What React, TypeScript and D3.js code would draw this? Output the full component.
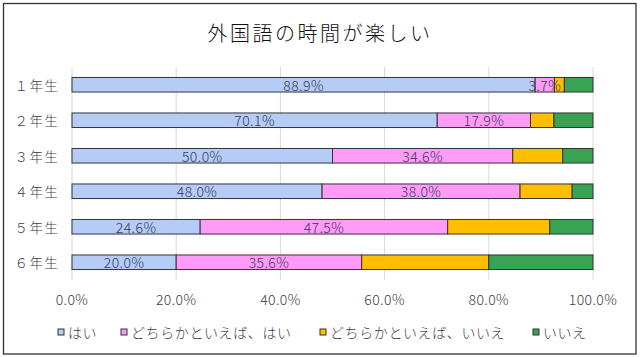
import React from "react";
import * as d3 from "d3";

const title = "外国語の時間が楽しい";
const categories = ["１年生", "２年生", "３年生", "４年生", "５年生", "６年生"];
const seriesNames = ["はい", "どちらかといえば、はい", "どちらかといえば、いいえ", "いいえ"];
const hai = [88.9, 70.1, 50.0, 48.0, 24.6, 20.0];
const dochiraHai = [3.7, 17.9, 34.6, 38.0, 47.5, 35.6];
const dochiraIie = [1.9, 4.5, 9.6, 10.0, 19.6, 24.4];
const iie = [5.5, 7.5, 5.8, 4.0, 8.3, 20.0];
const xTicks = [0, 20, 40, 60, 80, 100];
const colors = ["#B4CCF6", "#FF9CF8", "#FFBE00", "#39A353"];
const labelSeries = [true, true, false, false];

const W = 642;
const H = 357;
const FONT = "'Noto Sans CJK JP', 'Noto Sans', sans-serif";

export default function App() {
  const x = d3.scaleLinear().domain([0, 100]).range([72, 593]);
  const y = d3.scaleBand<string>().domain(categories).range([67, 280]).paddingInner(0.59).paddingOuter(0.295);
  const values = [hai, dochiraHai, dochiraIie, iie];
  const rows = categories.map((c, i) => {
    const obj: any = { cat: c };
    values.forEach((v, k) => (obj["s" + k] = v[i]));
    return obj;
  });
  const stack = d3.stack<any>().keys(["s0", "s1", "s2", "s3"])(rows);
  const legendX = [58, 121, 320, 533];

  return (
    <svg width={W} height={H} style={{ position: "absolute", left: 0, top: 0, background: "#fff" }} fontFamily={FONT} fontWeight={300}>
      <rect x={0} y={0} width={W} height={H} fill="#fff" />
      <rect x={3.5} y={3.5} width={632.5} height={350.5} fill="none" stroke="#333" strokeWidth={1.3} />
      <text x={320} y={32} textAnchor="middle" dominantBaseline="central" fontSize={20} letterSpacing={2.5} fill="#111">
        {title}
      </text>
      {xTicks.map((t) => (
        <g key={t}>
          <line x1={x(t)} x2={x(t)} y1={67} y2={280} stroke="#D9D9D9" strokeWidth={1} />
          <text x={x(t)} y={299} textAnchor="middle" dominantBaseline="central" fontSize={14} letterSpacing={0.4} fill="#404040">
            {t.toFixed(1) + "%"}
          </text>
        </g>
      ))}
      {categories.map((c) => (
        <text key={c} x={59} y={(y(c) as number) + y.bandwidth() / 2} textAnchor="end" dominantBaseline="central" fontSize={13.5} letterSpacing={1.3} fill="#404040">
          {c}
        </text>
      ))}
      {stack.map((layer, k) => (
        <g key={k}>
          {layer.map((d, i) => (
            <rect
              key={i}
              x={x(d[0])}
              y={y(categories[i]) as number}
              width={x(d[1]) - x(d[0])}
              height={y.bandwidth()}
              fill={colors[k]}
              stroke="#333"
              strokeWidth={1}
            />
          ))}
        </g>
      ))}
      {stack.map((layer, k) =>
        labelSeries[k]
          ? layer.map((d, i) => (
              <text
                key={k + "-" + i}
                x={(x(d[0]) + x(d[1])) / 2}
                y={(y(categories[i]) as number) + y.bandwidth() / 2}
                textAnchor="middle"
                dominantBaseline="central"
                fontSize={14}
                letterSpacing={0.4}
                fill="#3A3A55"
              >
                {values[k][i].toFixed(1) + "%"}
              </text>
            ))
          : null
      )}
      {seriesNames.map((s, k) => (
        <g key={s}>
          <rect x={legendX[k]} y={329} width={6} height={6} fill={colors[k]} stroke="#333" strokeWidth={1} />
          <text x={legendX[k] + 10} y={332} dominantBaseline="central" fontSize={14} letterSpacing={0.6} fill="#404040">
            {s}
          </text>
        </g>
      ))}
    </svg>
  );
}
